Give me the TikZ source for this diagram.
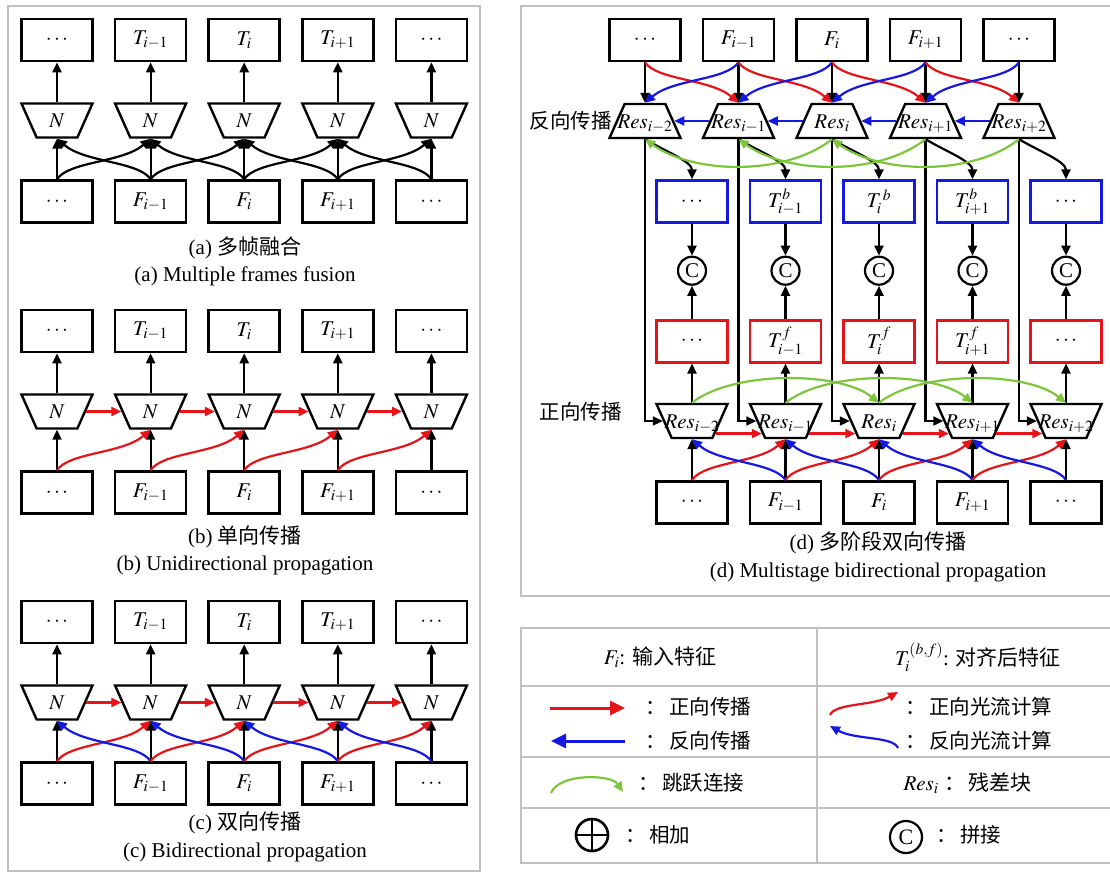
\documentclass[tikz,border=0pt]{standalone}
\usepackage{mathptmx}
\usepackage{fontspec}
\setmainfont{Liberation Serif}
\newfontfamily\cjk{Noto Sans CJK SC}
\usetikzlibrary{arrows.meta,shapes.geometric}
\definecolor{fwdred}{RGB}{230,20,25}
\definecolor{bwdblue}{RGB}{20,25,225}
\definecolor{skipgreen}{RGB}{125,198,60}
\definecolor{rulegray}{RGB}{192,192,192}
\tikzset{
  lbl/.style={font=\fontsize{21}{24}\selectfont},
  featbox/.style={draw,line width=2.6pt,minimum width=71pt,minimum height=42pt,inner sep=0pt,lbl},
  bluebox/.style={featbox,draw=bwdblue},
  redbox/.style={featbox,draw=fwdred},
  trapup/.style={draw,line width=2.4pt,trapezium,trapezium angle=66,trapezium stretches body=true,
    minimum width=71pt,minimum height=34pt,inner sep=0pt,text height=24pt,text depth=10pt,lbl},
  trapdown/.style={trapup,shape border rotate=180},
  catnode/.style={draw,circle,line width=2.2pt,minimum size=28pt,inner sep=0pt,lbl},
  arr/.style={line width=2.2pt,-{Triangle[length=10pt,width=9pt]}},
  redarr/.style={arr,fwdred},
  bluearr/.style={arr,bwdblue},
  skiparr/.style={arr,skipgreen},
  captext/.style={font=\fontsize{21}{24}\selectfont},
  cntext/.style={font=\fontsize{20.5}{24}\selectfont\cjk},
  keytext/.style={font=\fontsize{20.5}{24}\selectfont\cjk,anchor=west},
  rule/.style={draw=rulegray,line width=2pt}
}
\begin{document}
\begin{tikzpicture}[x=1pt,y=1pt]
\useasboundingbox (0,0) rectangle (1110,-873);

% frames
\draw[rule] (8,-6) rectangle (480,-871);
\draw[rule] (521,-6) rectangle (1116,-596);
\draw[rule] (521,-628) rectangle (1116,-863);
\draw[rule] (521,-686) -- (1116,-686);
\draw[rule] (521,-757) -- (1116,-757);
\draw[rule] (521,-808) -- (1116,-808);
\draw[rule] (817,-628) -- (817,-863);

% (a) (b) (c)
\foreach \p/\dy in {a/0,b/291,c/582}{
  \foreach \j/\tl/\fl in {1/\cdots/\cdots,2/T_{i-1}/F_{i-1},3/T_i/F_i,4/T_{i+1}/F_{i+1},5/\cdots/\cdots}{
    \pgfmathsetmacro{\x}{57+93.6*(\j-1)}
    \node[featbox] (\p t\j) at (\x,-40-\dy) {$\tl$};
    \node[trapdown] (\p n\j) at (\x,-120.5-\dy) {\makebox[0pt]{$N$}};
    \node[featbox] (\p f\j) at (\x,-201.5-\dy) {$\fl$};
    \draw[arr] (\p f\j.north) -- (\p n\j.270);
    \draw[arr] (\p n\j.90) -- (\p t\j.south);
  }
}
\foreach \j/\k in {1/2,2/3,3/4,4/5}{
  \draw[arr] (af\j.north) .. controls +(12,18) and +(-28,-24) .. (an\k.270);
  \draw[arr] (af\k.north) .. controls +(-12,18) and +(28,-24) .. (an\j.270);
  \draw[redarr] (bf\j.north) .. controls +(12,18) and +(-28,-24) .. (bn\k.270);
  \draw[redarr] (bn\j.0) -- (bn\k.180);
  \draw[redarr] (cf\j.north) .. controls +(12,18) and +(-28,-24) .. (cn\k.270);
  \draw[bluearr] (cf\k.north) .. controls +(-12,18) and +(28,-24) .. (cn\j.270);
  \draw[redarr] (cn\j.0) -- (cn\k.180);
}
\node[captext] (acn) at (245,-248) {(a) {\cjk 多帧融合}};
\node[captext] (aen) at (245,-276) {(a) Multiple frames fusion};
\node[captext] (bcn) at (245,-537) {(b) {\cjk 单向传播}};
\node[captext] (ben) at (245,-565) {(b) Unidirectional propagation};
\node[captext] (ccn) at (245,-823) {(c) {\cjk 双向传播}};
\node[captext] (cen) at (245,-852) {(c) Bidirectional propagation};

% (d)
\foreach \j/\fl/\bl/\rl/\rs in {1/\cdots/\cdots/\cdots/i-2,2/F_{i-1}/T_{i-1}^{b}/T_{i-1}^{f}/i-1,
    3/F_i/T_i^{\,b}/T_i^{f}/i,4/F_{i+1}/T_{i+1}^{b}/T_{i+1}^{f}/i+1,5/\cdots/\cdots/\cdots/i+2}{
  \pgfmathsetmacro{\x}{645+93.5*(\j-1)}
  \pgfmathsetmacro{\xx}{\x+47}
  \node[featbox] (dt\j) at (\x,-40) {$\fl$};
  \node[trapup] (br\j) at (\x,-121) {\makebox[0pt]{$Res_{\rs}$}};
  \node[bluebox] (db\j) at (\xx,-201.7) {$\bl$};
  \node[catnode] (dc\j) at (\xx,-270.7) {C};
  \node[redbox] (dr\j) at (\xx,-341.2) {$\rl$};
  \node[trapdown] (fr\j) at (\xx,-421) {\makebox[0pt]{$Res_{\rs}$}};
  \node[featbox] (df\j) at (\xx,-502.3) {$\fl$};
  \draw[arr] (dt\j.south) -- (br\j.90);
  \draw[arr] (br\j.270) |- (fr\j.180);
  \draw[arr] (br\j.270) .. controls +(20,-12) and +(0,18) .. (db\j.north);
  \draw[arr] (db\j.south) -- (dc\j.north);
  \draw[arr] (dr\j.north) -- (dc\j.south);
  \draw[arr] (fr\j.90) -- (dr\j.south);
  \draw[arr] (df\j.north) -- (fr\j.270);
}
\foreach \j/\k in {1/2,2/3,3/4,4/5}{
  \draw[redarr] (dt\j.south) .. controls +(12,-18) and +(-28,24) .. (br\k.90);
  \draw[bluearr] (dt\k.south) .. controls +(-12,-18) and +(28,24) .. (br\j.90);
  \draw[bluearr] (br\k.180) -- (br\j.0);
  \draw[redarr] (fr\j.-28) -- (fr\k.208);
  \draw[redarr] (df\j.north) .. controls +(12,18) and +(-28,-24) .. (fr\k.270);
  \draw[bluearr] (df\k.north) .. controls +(-12,18) and +(28,-24) .. (fr\j.270);
}
\foreach \j/\k in {1/3,2/4,3/5}{
  \draw[skiparr] (br\k.270) .. controls +(-45,-36) and +(50,-36) .. (br\j.270);
  \draw[skiparr] (fr\j.90) .. controls +(40,32) and +(-40,32) .. (fr\k.90);
}
\node[cntext,anchor=west] (bwdlbl) at (526,-121) {反向传播};
\node[cntext,anchor=west] (fwdlbl) at (536,-412) {正向传播};
\node[captext] (dcn) at (878,-543) {(d) {\cjk 多阶段双向传播}};
\node[captext] (den) at (878,-572) {(d) Multistage bidirectional propagation};

% legend
\node[lbl] (kfeat) at (660,-657) {$F_i$: {\cjk 输入特征}};
\node[lbl] (kalign) at (978,-657) {$T_i^{(b,f)}$: {\cjk 对齐后特征}};
\coordinate (kr1) at (550,-708);
\coordinate (kr2) at (625,-708);
\coordinate (kb1) at (625,-741);
\coordinate (kb2) at (551,-741);
\draw[fwdred,line width=3pt,-{Triangle[length=15pt,width=14pt]}] (kr1) -- (kr2);
\draw[bwdblue,line width=3pt,-{Triangle[length=15pt,width=14pt]}] (kb1) -- (kb2);
\node[keytext] (kfwd) at (642,-707) {：\hspace{3pt}正向传播};
\node[keytext] (kbwd) at (642,-741) {：\hspace{3pt}反向传播};
\coordinate (kf1) at (830,-715);
\coordinate (kf2) at (898,-692);
\coordinate (kg1) at (898,-748);
\coordinate (kg2) at (830,-726);
\draw[redarr] (kf1) .. controls +(5,12) and +(-25,-14) .. (kf2);
\draw[bluearr] (kg1) .. controls +(-5,12) and +(25,-14) .. (kg2);
\node[keytext] (kflow) at (902,-707) {：\hspace{3pt}正向光流计算};
\node[keytext] (kbflow) at (902,-741) {：\hspace{3pt}反向光流计算};
\coordinate (ks1) at (551,-793);
\coordinate (ks2) at (623,-792);
\draw[skiparr] (ks1) .. controls +(8,20) and +(-12,18) .. (ks2);
\node[keytext] (kskip) at (635,-783) {：\hspace{3pt}跳跃连接};
\node[lbl,anchor=west] (kres) at (900,-783) {$Res_i$\hspace{6pt}{\cjk ：\hspace{3pt}残差块}};
\node[draw,circle,line width=2.6pt,minimum size=32pt,inner sep=0pt] (kplus) at (592,-835) {};
\draw[line width=2.6pt] (kplus.north) -- (kplus.south) (kplus.west) -- (kplus.east);
\node[keytext] (kadd) at (622,-835) {：\hspace{3pt}相加};
\node[catnode,minimum size=32pt,font=\fontsize{22}{24}\selectfont] (kcat) at (906,-837) {C};
\node[keytext] (kconcat) at (933,-835) {：\hspace{3pt}拼接};
\end{tikzpicture}
\end{document}
